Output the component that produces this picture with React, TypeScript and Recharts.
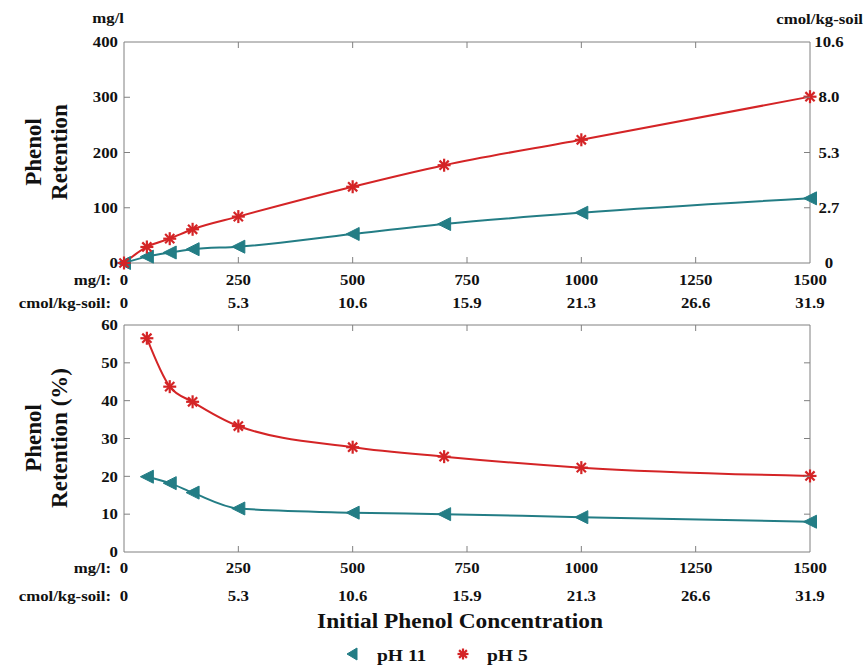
import React from 'react';
import { LineChart, Line, XAxis, YAxis } from 'recharts';

const FONT = '"Liberation Serif", "Times New Roman", serif';
const AXIS = '#808080';
const RED = '#d42426';
const TEAL = '#237d85';
const INK = '#111';

// Top panel: phenol retention (mg/l) vs initial concentration (mg/l)
const concTop = [0, 50, 100, 150, 250, 500, 700, 1000, 1500];
const retentionPH11 = [0, 11.5, 19, 25, 29.5, 52.5, 70.5, 91, 117];
const retentionPH5 = [0, 29, 44, 61, 84, 138, 177, 223, 301];

// Bottom panel: phenol retention (%) vs initial concentration (mg/l)
const concBottom = [50, 100, 150, 250, 500, 700, 1000, 1500];
const percentPH11 = [19.9, 18.2, 15.7, 11.5, 10.4, 10.0, 9.2, 8.0];
const percentPH5 = [56.5, 43.7, 39.7, 33.3, 27.7, 25.2, 22.3, 20.1];

const xTicks = [0, 250, 500, 750, 1000, 1250, 1500];
const xTicksCmol = ['0', '5.3', '10.6', '15.9', '21.3', '26.6', '31.9'];
const topYTicks = [0, 100, 200, 300, 400];
const topYRightLabels = ['0', '2.7', '5.3', '8.0', '10.6'];
const bottomYTicks = [0, 10, 20, 30, 40, 50, 60];

const topData = concTop.map((c, i) => ({ conc: c, ph11: retentionPH11[i], ph5: retentionPH5[i] }));
const bottomData = concBottom.map((c, i) => ({ conc: c, ph11: percentPH11[i], ph5: percentPH5[i] }));

const STRETCH = 1.12;

const SText = ({ x, y, anchor = 'middle', size = 15, sx = STRETCH, baseline, children }: any) => (
  <text
    transform={`translate(${x},${y}) scale(${sx},1)`}
    x={0}
    y={0}
    textAnchor={anchor}
    dominantBaseline={baseline}
    fontFamily={FONT}
    fontWeight="bold"
    fontSize={size}
    fill={INK}
  >
    {children}
  </text>
);

const makeBottomXTick = (row1: number, row2: number) => (props: any) => {
  const { x, y, payload } = props;
  const v = payload.value;
  const i = xTicks.indexOf(v);
  return (
    <g>
      {i > 0 && i < xTicks.length - 1 && <line x1={x} x2={x} y1={y} y2={y - 6} stroke={AXIS} strokeWidth={1} />}
      <SText x={x} y={y + row1} baseline="central">{String(v)}</SText>
      <SText x={x} y={y + row2} baseline="central">{xTicksCmol[i]}</SText>
      {i === 0 && (
        <>
          <SText x={x - 13} y={y + row1} anchor="end" baseline="central">mg/l:</SText>
          <SText x={x - 13} y={y + row2} anchor="end" baseline="central">cmol/kg-soil:</SText>
        </>
      )}
    </g>
  );
};

const TopXTick = (props: any) => {
  const { x, y, payload } = props;
  const i = xTicks.indexOf(payload.value);
  if (i <= 0 || i >= xTicks.length - 1) return <g />;
  return <line x1={x} x2={x} y1={y} y2={y + 6} stroke={AXIS} strokeWidth={1} />;
};

const makeLeftYTick = (ticks: number[]) => (props: any) => {
  const { x, y, payload } = props;
  const i = ticks.indexOf(payload.value);
  return (
    <g>
      {i > 0 && i < ticks.length - 1 && <line x1={x} x2={x + 6} y1={y} y2={y} stroke={AXIS} strokeWidth={1} />}
      <SText x={x - 6} y={y} anchor="end" baseline="central">{String(payload.value)}</SText>
    </g>
  );
};

const makeRightYTick = (ticks: number[], labels: string[] | null) => (props: any) => {
  const { x, y, payload } = props;
  const i = ticks.indexOf(payload.value);
  return (
    <g>
      {i > 0 && i < ticks.length - 1 && <line x1={x} x2={x - 6} y1={y} y2={y} stroke={AXIS} strokeWidth={1} />}
      {labels && <SText x={x + 19} y={y} baseline="central">{labels[i]}</SText>}
    </g>
  );
};

const StarMark = ({ cx, cy, r = 6.5 }: any) => {
  const spokes = [0, 45, 90, 135];
  return (
    <g>
      {spokes.map((a) => {
        const rad = (a * Math.PI) / 180;
        const dx = Math.cos(rad) * r;
        const dy = Math.sin(rad) * r;
        return <line key={a} x1={cx - dx} y1={cy - dy} x2={cx + dx} y2={cy + dy} stroke={RED} strokeWidth={2.2} />;
      })}
      <circle cx={cx} cy={cy} r={2} fill={RED} />
    </g>
  );
};

const TriMark = ({ cx, cy, w = 13, h = 13 }: any) => (
  <polygon
    points={`${cx - w / 2},${cy} ${cx + w / 2},${cy - h / 2} ${cx + w / 2},${cy + h / 2}`}
    fill={TEAL}
    stroke={TEAL}
    strokeWidth={1}
  />
);

const renderStar = (p: any) => <StarMark key={`s-${p.index}`} cx={p.cx} cy={p.cy} />;
const renderTri = (p: any) => <TriMark key={`t-${p.index}`} cx={p.cx} cy={p.cy} />;

const axisCommon = {
  axisLine: { stroke: AXIS, strokeWidth: 1 },
  tickLine: false,
  tickSize: 0,
  tickMargin: 0,
  interval: 0 as const,
};

const RotTitle = ({ x, y, size = 23, children }: any) => (
  <text
    transform={`translate(${x},${y}) rotate(-90)`}
    x={0}
    y={0}
    textAnchor="middle"
    fontFamily={FONT}
    fontWeight="bold"
    fontSize={size}
    fill={INK}
  >
    {children}
  </text>
);

export default function App() {
  return (
    <div style={{ position: 'absolute', top: 0, left: 0, width: 864, height: 665, background: '#fff', overflow: 'hidden' }}>
      <div style={{ position: 'absolute', top: 0, left: 0 }}>
        <LineChart width={864} height={315} data={topData} margin={{ top: 32, right: 4, bottom: 2, left: 0 }}>
          <XAxis xAxisId="b" dataKey="conc" type="number" domain={[0, 1500]} ticks={xTicks} height={50} {...axisCommon} tick={makeBottomXTick(17, 40)} />
          <XAxis xAxisId="t" orientation="top" dataKey="conc" type="number" domain={[0, 1500]} allowDataOverflow ticks={xTicks} height={10} {...axisCommon} tick={TopXTick} />
          <YAxis yAxisId="l" type="number" domain={[0, 400]} ticks={topYTicks} width={124} {...axisCommon} tick={makeLeftYTick(topYTicks)} />
          <YAxis yAxisId="r" orientation="right" type="number" domain={[0, 400]} allowDataOverflow ticks={topYTicks} width={50} {...axisCommon} tick={makeRightYTick(topYTicks, topYRightLabels)} />
          <Line xAxisId="t" yAxisId="r" dataKey="ph5" stroke="none" strokeWidth={0} dot={false} activeDot={false} legendType="none" isAnimationActive={false} />
          <Line xAxisId="b" yAxisId="l" dataKey="ph11" type="monotone" stroke={TEAL} strokeWidth={2} dot={renderTri} activeDot={false} isAnimationActive={false} />
          <Line xAxisId="b" yAxisId="l" dataKey="ph5" type="monotone" stroke={RED} strokeWidth={2} dot={renderStar} activeDot={false} isAnimationActive={false} />
        </LineChart>
      </div>
      <div style={{ position: 'absolute', top: 315, left: 0 }}>
        <LineChart width={864} height={350} data={bottomData} margin={{ top: 0, right: 4, bottom: 63, left: 0 }}>
          <XAxis xAxisId="b" dataKey="conc" type="number" domain={[0, 1500]} ticks={xTicks} height={50} {...axisCommon} tick={makeBottomXTick(16, 44)} />
          <XAxis xAxisId="t" orientation="top" dataKey="conc" type="number" domain={[0, 1500]} allowDataOverflow ticks={xTicks} height={10} {...axisCommon} tick={TopXTick} />
          <YAxis yAxisId="l" type="number" domain={[0, 60]} ticks={bottomYTicks} width={124} {...axisCommon} tick={makeLeftYTick(bottomYTicks)} />
          <YAxis yAxisId="r" orientation="right" type="number" domain={[0, 60]} allowDataOverflow ticks={bottomYTicks} width={50} {...axisCommon} tick={makeRightYTick(bottomYTicks, null)} />
          <Line xAxisId="t" yAxisId="r" dataKey="ph5" stroke="none" strokeWidth={0} dot={false} activeDot={false} legendType="none" isAnimationActive={false} />
          <Line xAxisId="b" yAxisId="l" dataKey="ph11" type="monotone" stroke={TEAL} strokeWidth={2} dot={renderTri} activeDot={false} isAnimationActive={false} />
          <Line xAxisId="b" yAxisId="l" dataKey="ph5" type="monotone" stroke={RED} strokeWidth={2} dot={renderStar} activeDot={false} isAnimationActive={false} />
        </LineChart>
      </div>
      <svg width={864} height={665} style={{ position: 'absolute', top: 0, left: 0, pointerEvents: 'none' }}>
        <SText x={124} y={23} anchor="end">mg/l</SText>
        <SText x={863} y={24} anchor="end">cmol/kg-soil</SText>
        <RotTitle x={41} y={152}>Phenol</RotTitle>
        <RotTitle x={67} y={152}>Retention</RotTitle>
        <RotTitle x={41} y={438}>Phenol</RotTitle>
        <RotTitle x={67} y={438}>Retention (%)</RotTitle>
        <SText x={460} y={628} size={20} sx={1.17}>Initial Phenol Concentration</SText>
        <TriMark cx={352} cy={654} w={10} h={12} />
        <SText x={377} y={661} anchor="start" size={17} sx={1.15}>pH 11</SText>
        <StarMark cx={463} cy={654} r={5.5} />
        <SText x={487} y={661} anchor="start" size={17} sx={1.15}>pH 5</SText>
      </svg>
    </div>
  );
}
